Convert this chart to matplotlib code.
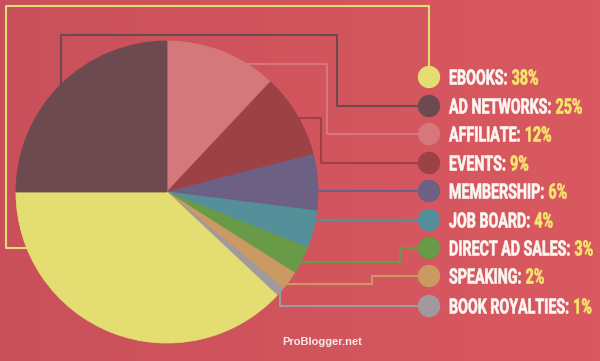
import numpy as np
import matplotlib.pyplot as plt
from matplotlib.patches import Circle, PathPatch
from matplotlib.colors import LinearSegmentedColormap
from matplotlib.textpath import TextPath
from matplotlib.font_manager import FontProperties
from matplotlib.transforms import Affine2D

# legend order (top to bottom)
labels = ["EBOOKS", "AD NETWORKS", "AFFILIATE", "EVENTS", "MEMBERSHIP",
          "JOB BOARD", "DIRECT AD SALES", "SPEAKING", "BOOK ROYALTIES"]
values = [38, 25, 12, 9, 6, 4, 3, 2, 1]
colors = ["#e4de72", "#6c4a4f", "#d4787b", "#9c4146", "#6d6085",
          "#55909a", "#699a48", "#cb9a62", "#a09a9f"]

# pie runs clockwise from 12 o'clock starting with affiliate
pie_order = [2, 3, 4, 5, 6, 7, 8, 0, 1]

W, H = 600, 361

# connector routes in pixel coords (x, y from top), circle end first
routes = [
    [(429, 77), (429, 6), (6, 6), (6, 248), (80, 248)],
    [(429, 106), (337, 106), (337, 35), (61, 35), (61, 130)],
    [(429, 134), (327, 134), (327, 64), (220, 64)],
    [(429, 163), (321, 163), (321, 118), (260, 118)],
    [(429, 191), (260, 191)],
    [(429, 220), (260, 220)],
    [(429, 248), (400, 248), (400, 262), (260, 262)],
    [(429, 276), (372, 276), (372, 284), (260, 284)],
    [(429, 306), (280, 306), (280, 270)],
]

fig = plt.figure(figsize=(6, 3.61), dpi=100)
ax = fig.add_axes([0, 0, 1, 1])

# background with slight darkening towards the left
grad = np.linspace(0, 1, 200)[None, :]
bg_cmap = LinearSegmentedColormap.from_list("bg", ["#c9505a", "#da5960"])
ax.imshow(grad, extent=(0, W, 0, H), aspect="auto", cmap=bg_cmap, zorder=0)

cx, cy, r = 167, H - 192, 151
pie_colors = [colors[i] for i in pie_order]
wedges, _ = ax.pie([values[i] for i in pie_order], colors=pie_colors,
                   startangle=90, counterclock=False,
                   center=(cx, cy), radius=r, frame=True)
for w, c in zip(wedges, pie_colors):
    w.set_edgecolor(c)
    w.set_linewidth(0.6)
    w.set_zorder(3)

for route, col in zip(routes, colors):
    xs = [p[0] for p in route]
    ys = [H - p[1] for p in route]
    ax.plot(xs, ys, color=col, lw=1.5, zorder=2, solid_capstyle="butt")
    ax.add_patch(Circle((route[0][0], H - route[0][1]), 10.5, color=col, zorder=4))

# condensed capital text (like a Bebas headline), drawn as scaled paths
fp = FontProperties(family="Roboto", weight="bold")
cap = TextPath((0, 0), "H", size=1, prop=fp).get_extents().height
cap_px = 15.0
size = cap_px / cap

def text_width(s):
    return TextPath((0, 0), s, size=1, prop=fp).get_extents().x1

longest = max(labels, key=lambda s: text_width(s + ": 1%"))
sx = 143.0 / (text_width(longest + ": 1%") * size)

def draw_text(x, yc, s, color):
    tp = TextPath((0, 0), s, size=1, prop=fp)
    tr = Affine2D().scale(size * sx, size).translate(x, yc - cap_px / 2)
    ax.add_patch(PathPatch(tr.transform_path(tp), facecolor=color,
                           edgecolor=color, linewidth=0.45, zorder=5))
    return x + text_width(s) * size * sx

for i, (lab, val) in enumerate(zip(labels, values)):
    yc = H - routes[i][0][1]
    x_end = draw_text(449, yc, lab + ":", "#fbf6f2")
    draw_text(x_end + 5, yc, f"{val}%", "#f6e66c")

ax.text(322, H - 342, "ProBlogger.net", color="#f4ecea", fontsize=8,
        fontweight="bold", family=["Liberation Sans", "DejaVu Sans"],
        ha="center", va="center", zorder=5)

ax.set_xlim(0, W)
ax.set_ylim(0, H)
ax.set_aspect("equal")
ax.axis("off")

fig.savefig("out.png", dpi=100)
